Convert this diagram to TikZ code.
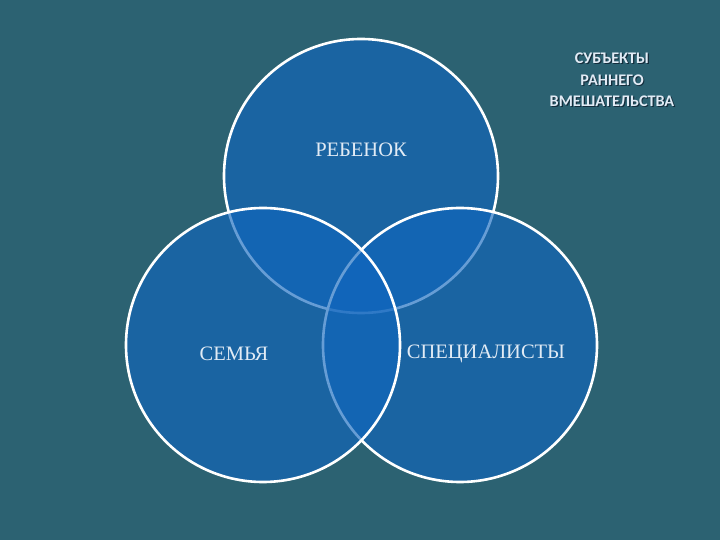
\documentclass[tikz,border=0pt]{standalone}
\usepackage{fontspec}
\setmainfont{Liberation Serif}
\newfontfamily\titlefont{Carlito}
\definecolor{bgteal}{RGB}{44,98,114}
\definecolor{circblue}{RGB}{16,102,190}
\definecolor{txtlight}{RGB}{225,235,245}
\definecolor{shadowc}{RGB}{20,45,60}
\tikzset{
  venn/.style={circle, minimum size=274pt, inner sep=0pt, fill=circblue, fill opacity=0.64, draw=white, draw opacity=1, line width=2.6pt},
  lbl/.style={text=txtlight, font=\fontsize{20.5}{22}\selectfont},
  ttl/.style={text=txtlight, font=\titlefont\bfseries\fontsize{16.2}{21.5}\selectfont, align=center},
  ttlshadow/.style={ttl, text=shadowc}
}
\begin{document}
\begin{tikzpicture}[x=1pt,y=1pt]
\useasboundingbox (0,0) rectangle (720,540);
\fill[bgteal] (0,0) rectangle (720,540);
\node[venn] (top) at (361,364) {};
\node[venn] (right) at (460,195) {};
\node[venn] (left) at (263,195) {};
\node[lbl] (reb) at (361,390) {РЕБЕНОК};
\node[lbl] (sem) at (234,186) {СЕМЬЯ};
\node[lbl] (spec) at (486,186) {СПЕЦИАЛИСТЫ};
\node[ttlshadow] (titleshadow) at (613.2,459) {СУБЪЕКТЫ\\РАННЕГО\\ВМЕШАТЕЛЬСТВА};
\node[ttl] (title) at (612,460) {СУБЪЕКТЫ\\РАННЕГО\\ВМЕШАТЕЛЬСТВА};
\end{tikzpicture}
\end{document}
